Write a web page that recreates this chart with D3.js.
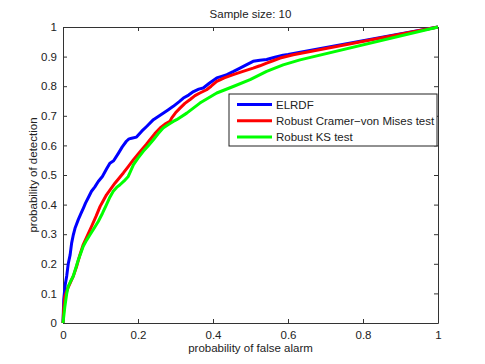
<!DOCTYPE html>
<html>
<head>
<meta charset="utf-8">
<script src="https://cdn.jsdelivr.net/npm/d3@7"></script>
<style>
  body { margin: 0; background: #fff; }
  svg text { font-family: "Liberation Sans", Arial, Helvetica, sans-serif; fill: #222; }
</style>
</head>
<body>
<div id="chart"></div>
<script>
const seriesNames = ['ELRDF', 'Robust Cramer\u2212von Mises test', 'Robust KS test'];
const seriesColors = ['#0000ff', '#ff0000', '#00ff00'];

const elrdfX = [0, 0.002, 0.006, 0.01, 0.014, 0.019, 0.023, 0.027, 0.032, 0.041, 0.048, 0.055, 0.06, 0.068, 0.076, 0.085, 0.094, 0.105, 0.116, 0.125, 0.135, 0.148, 0.158, 0.169, 0.176, 0.183, 0.196, 0.21, 0.223, 0.241, 0.26, 0.28, 0.294, 0.31, 0.321, 0.335, 0.348, 0.362, 0.374, 0.39, 0.41, 0.425, 0.437, 0.455, 0.472, 0.49, 0.507, 0.525, 0.543, 0.565, 0.587, 0.6, 1];
const elrdfY = [0, 0.08, 0.13, 0.16, 0.2, 0.23, 0.27, 0.295, 0.32, 0.35, 0.37, 0.39, 0.405, 0.425, 0.445, 0.46, 0.478, 0.495, 0.52, 0.54, 0.548, 0.574, 0.595, 0.614, 0.622, 0.624, 0.628, 0.648, 0.664, 0.687, 0.703, 0.72, 0.732, 0.748, 0.76, 0.77, 0.782, 0.79, 0.794, 0.81, 0.828, 0.834, 0.839, 0.85, 0.861, 0.873, 0.884, 0.888, 0.89, 0.898, 0.905, 0.907, 1];

const cvmX = [0, 0.002, 0.005, 0.012, 0.019, 0.028, 0.036, 0.045, 0.054, 0.065, 0.076, 0.088, 0.099, 0.108, 0.116, 0.127, 0.139, 0.15, 0.161, 0.175, 0.188, 0.2, 0.21, 0.222, 0.232, 0.245, 0.259, 0.272, 0.285, 0.29, 0.3, 0.312, 0.325, 0.339, 0.352, 0.365, 0.383, 0.395, 0.41, 0.43, 0.454, 0.48, 0.507, 0.525, 0.543, 0.56, 0.579, 0.614, 1];
const cvmY = [0, 0.05, 0.09, 0.115, 0.135, 0.16, 0.19, 0.23, 0.265, 0.295, 0.326, 0.36, 0.394, 0.415, 0.433, 0.452, 0.473, 0.49, 0.507, 0.53, 0.552, 0.57, 0.585, 0.603, 0.619, 0.64, 0.659, 0.672, 0.681, 0.693, 0.71, 0.726, 0.742, 0.755, 0.768, 0.777, 0.788, 0.8, 0.816, 0.828, 0.839, 0.85, 0.861, 0.869, 0.878, 0.886, 0.895, 0.906, 1];

const ksX = [0, 0.005, 0.01, 0.014, 0.02, 0.027, 0.034, 0.041, 0.048, 0.054, 0.063, 0.072, 0.083, 0.094, 0.105, 0.116, 0.125, 0.134, 0.143, 0.152, 0.163, 0.174, 0.18, 0.188, 0.2, 0.214, 0.228, 0.241, 0.254, 0.267, 0.28, 0.294, 0.303, 0.33, 0.365, 0.41, 0.454, 0.499, 0.543, 0.587, 0.632, 1];
const ksY = [0, 0.056, 0.1, 0.124, 0.14, 0.157, 0.185, 0.214, 0.238, 0.259, 0.28, 0.298, 0.32, 0.343, 0.37, 0.4, 0.425, 0.445, 0.458, 0.467, 0.48, 0.495, 0.512, 0.535, 0.557, 0.58, 0.6, 0.619, 0.64, 0.659, 0.67, 0.681, 0.687, 0.709, 0.743, 0.777, 0.799, 0.822, 0.85, 0.872, 0.889, 1];

const xTicks = [0, 0.2, 0.4, 0.6, 0.8, 1];
const yTicks = [0, 0.1, 0.2, 0.3, 0.4, 0.5, 0.6, 0.7, 0.8, 0.9, 1];

const allSeries = [
    { name: seriesNames[0], color: seriesColors[0], xs: elrdfX, ys: elrdfY },
    { name: seriesNames[1], color: seriesColors[1], xs: cvmX, ys: cvmY },
    { name: seriesNames[2], color: seriesColors[2], xs: ksX, ys: ksY }
];

const margin = { top: 27, right: 47, bottom: 41, left: 63 };
const width = 485 - margin.left - margin.right;
const height = 364 - margin.top - margin.bottom;

const svg = d3.select('#chart')
    .append('svg')
    .attr('width', 485)
    .attr('height', 364);

const g = svg.append('g')
    .attr('transform', `translate(${margin.left}, ${margin.top})`);

const xScale = d3.scaleLinear().domain([0, 1]).range([0, width]);
const yScale = d3.scaleLinear().domain([0, 1]).range([height, 0]);

const fmt = d => d === 0 || d === 1 ? String(d) : d3.format('.1f')(d);

function styleAxis(sel) {
    sel.selectAll('path').attr('stroke', '#333').attr('stroke-width', 1);
    sel.selectAll('line').attr('stroke', '#333');
    sel.selectAll('text').style('font-size', '11.5px').attr('fill', '#222');
}

// bottom and left axes with labels, ticks pointing inward
g.append('g')
    .attr('transform', `translate(0, ${height})`)
    .call(d3.axisBottom(xScale).tickValues(xTicks).tickFormat(fmt).tickSizeInner(-4).tickSizeOuter(0).tickPadding(8))
    .call(styleAxis);

g.append('g')
    .call(d3.axisLeft(yScale).tickValues(yTicks).tickFormat(fmt).tickSizeInner(-4).tickSizeOuter(0).tickPadding(6))
    .call(styleAxis);

// top and right box axes, no labels
g.append('g')
    .call(d3.axisTop(xScale).tickValues(xTicks).tickFormat('').tickSizeInner(-4).tickSizeOuter(0))
    .call(styleAxis);

g.append('g')
    .attr('transform', `translate(${width}, 0)`)
    .call(d3.axisRight(yScale).tickValues(yTicks).tickFormat('').tickSizeInner(-4).tickSizeOuter(0))
    .call(styleAxis);

const line = d3.line()
    .x(d => xScale(d[0]))
    .y(d => yScale(d[1]));

g.selectAll('.series')
    .data(allSeries)
    .enter()
    .append('path')
    .attr('class', 'series')
    .attr('d', d => line(d.xs.map((x, i) => [x, d.ys[i]])))
    .attr('fill', 'none')
    .attr('stroke', d => d.color)
    .attr('stroke-width', 3)
    .attr('stroke-linejoin', 'round');

// legend
const legend = svg.append('g')
    .attr('transform', 'translate(229, 94)');

legend.append('rect')
    .attr('x', 0)
    .attr('y', 0)
    .attr('width', 208)
    .attr('height', 52)
    .attr('fill', '#fff')
    .attr('stroke', '#222')
    .attr('stroke-width', 1);

legend.selectAll('.legend-item')
    .data(allSeries)
    .enter()
    .append('g')
    .attr('class', 'legend-item')
    .attr('transform', (d, i) => `translate(0, ${10.5 + i * 16.2})`)
    .each(function(d) {
        const item = d3.select(this);
        item.append('line')
            .attr('x1', 8)
            .attr('x2', 43)
            .attr('y1', 0)
            .attr('y2', 0)
            .attr('stroke', d.color)
            .attr('stroke-width', 3);
        item.append('text')
            .attr('x', 47)
            .attr('y', 4)
            .style('font-size', '11.5px')
            .text(d.name);
    });

// title and axis labels
svg.append('text')
    .attr('x', margin.left + width / 2)
    .attr('y', 18)
    .attr('text-anchor', 'middle')
    .style('font-size', '11.5px')
    .text('Sample size: 10');

svg.append('text')
    .attr('x', margin.left + width / 2)
    .attr('y', 352)
    .attr('text-anchor', 'middle')
    .style('font-size', '11.5px')
    .text('probability of false alarm');

svg.append('text')
    .attr('transform', 'rotate(-90)')
    .attr('x', -(margin.top + height / 2))
    .attr('y', 37)
    .attr('text-anchor', 'middle')
    .style('font-size', '11.5px')
    .text('probability of detection');
</script>
</body>
</html>
